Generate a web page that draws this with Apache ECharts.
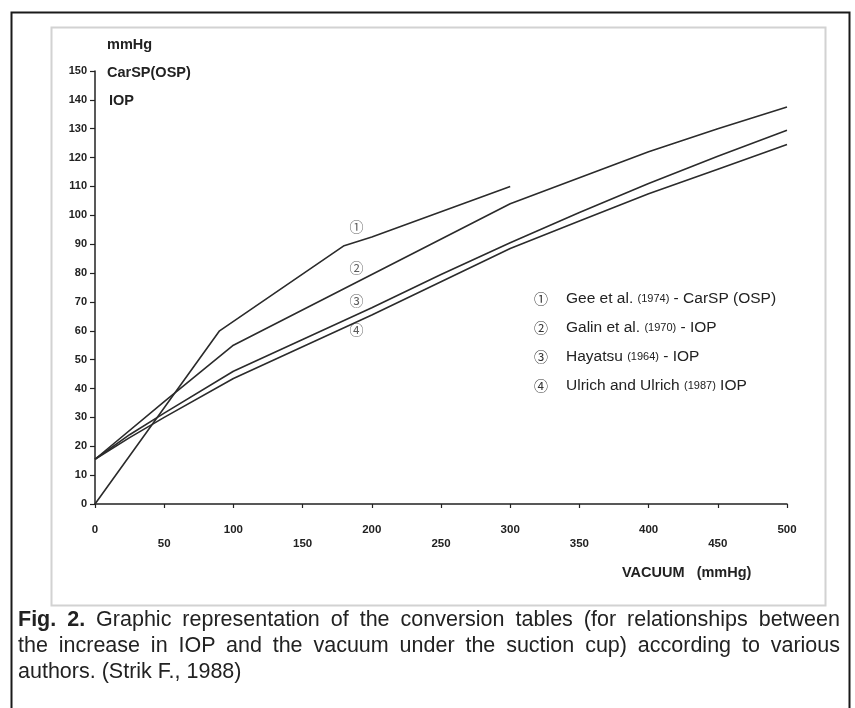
<!DOCTYPE html>
<html>
<head>
<meta charset="utf-8">
<script src="https://cdn.jsdelivr.net/npm/echarts@6/dist/echarts.min.js"></script>
<style>
  html, body { margin: 0; padding: 0; background: #fff; }
  #wrap { position: relative; width: 855px; height: 708px; overflow: hidden; }
  #chart { position: absolute; left: 0; top: 0; width: 855px; height: 708px; }
  #caption { position: absolute; left: 18px; top: 606px; width: 822px;
    font-family: "Liberation Sans", Arial, sans-serif; font-size: 21.5px; line-height: 26px; color: #222; }
  #caption .j { text-align: justify; text-align-last: justify; white-space: normal; }
  #caption b { font-weight: bold; }
</style>
</head>
<body>
<div id="wrap">
  <div id="chart"></div>
  <div id="caption">
    <div class="j"><b>Fig. 2.</b> Graphic representation of the conversion tables (for relationships between</div>
    <div class="j">the increase in IOP and the vacuum under the suction cup) according to various</div>
    <div>authors. (Strik F., 1988)</div>
  </div>
</div>
<script>
// ---- data ----
var markers = ['①', '②', '③', '④'];
var authors = ['Gee et al.', 'Galin et al.', 'Hayatsu', 'Ulrich and Ulrich'];
var years = ['1974', '1970', '1964', '1987'];
var suffixes = [' - CarSP (OSP)', ' - IOP', ' - IOP', ' IOP'];

var geeVacuum = [0, 90, 180, 200, 300];
var geeCarSP = [0, 60, 89.5, 92.5, 110];

var galinVacuum = [0, 50, 100, 300, 400, 450, 500];
var galinIOP = [15.5, 35.5, 55, 104, 122, 130, 137.5];

var hayatsuVacuum = [0, 25, 50, 100, 150, 200, 250, 300, 350, 400, 450, 500];
var hayatsuIOP = [15.5, 24, 31.5, 46, 57, 68, 79.5, 90.5, 101, 111, 120.5, 129.5];

var ulrichVacuum = [0, 25, 50, 100, 150, 200, 250, 300, 350, 400, 450, 500];
var ulrichIOP = [15.5, 23, 30, 43.5, 54.5, 65.5, 77, 88.5, 98, 107.5, 116, 124.5];

var curveLabelVacuum = [189, 189, 189, 189];
var curveLabelValue = [96, 82, 70.5, 60.5];

var yTicks = { min: 0, max: 150, step: 10 };
var xTicks = { min: 0, max: 500, step: 50 };

// ---- build ----
function pairs(xs, ys) { return xs.map(function (x, i) { return [x, ys[i]]; }); }
var names = authors.map(function (a, i) { return a + ' (' + years[i] + ')' + suffixes[i]; });
var seriesData = [pairs(geeVacuum, geeCarSP), pairs(galinVacuum, galinIOP),
                  pairs(hayatsuVacuum, hayatsuIOP), pairs(ulrichVacuum, ulrichIOP)];

var lineColor = '#2b2b2b';
var series = seriesData.map(function (d, i) {
  return {
    name: names[i], type: 'line', data: d, smooth: false, symbol: 'none',
    lineStyle: { color: lineColor, width: 1.6 }, itemStyle: { color: lineColor },
    animation: false, z: 3
  };
});
series.push({
  type: 'scatter', name: 'curve labels', symbolSize: 0, silent: true, animation: false,
  data: curveLabelVacuum.map(function (x, i) { return [x, curveLabelValue[i], markers[i]]; }),
  label: { show: true, position: 'inside', formatter: function (p) { return p.data[2]; },
    fontFamily: '"Noto Sans CJK SC", "DejaVu Sans", sans-serif', fontSize: 14, color: '#333' }
});

var chart = echarts.init(document.getElementById('chart'), null, { renderer: 'canvas' });
var baseFont = '"Liberation Sans", Arial, Helvetica, sans-serif';
chart.setOption({
  backgroundColor: '#fff',
  animation: false,
  grid: { left: 95, right: 68, top: 71, bottom: 204, containLabel: false },
  xAxis: {
    type: 'value', min: xTicks.min, max: xTicks.max, interval: xTicks.step,
    axisLine: { show: true, lineStyle: { color: '#222', width: 1.5 } },
    axisTick: { show: true, length: 4, lineStyle: { color: '#222', width: 1.2 } },
    splitLine: { show: false },
    axisLabel: {
      margin: 19, color: '#222', fontFamily: baseFont, fontSize: 11.5, fontWeight: 'bold', lineHeight: 14,
      formatter: function (v) { return (v % 100 === 0) ? String(v) : '\n' + v; }
    }
  },
  yAxis: {
    type: 'value', min: yTicks.min, max: yTicks.max, interval: yTicks.step,
    axisLine: { show: true, lineStyle: { color: '#222', width: 1.5 } },
    axisTick: { show: true, length: 5, lineStyle: { color: '#222', width: 1.2 } },
    splitLine: { show: false },
    axisLabel: { margin: 8, color: '#222', fontFamily: baseFont, fontSize: 11, fontWeight: 'bold' }
  },
  legend: {
    show: true, orient: 'vertical', left: 524, top: 286, data: names,
    icon: 'none', itemWidth: 0, itemHeight: 16, itemGap: 13, selectedMode: false,
    textStyle: {
      color: '#222', fontFamily: baseFont, fontSize: 15.5, lineHeight: 16,
      rich: {
        c: { fontFamily: '"Noto Sans CJK SC", "DejaVu Sans", sans-serif', fontSize: 14, color: '#333', padding: [0, 18, 0, 0] },
        t: { fontFamily: baseFont, fontSize: 15.5, color: '#222' },
        y: { fontFamily: baseFont, fontSize: 11, color: '#222' }
      }
    },
    formatter: function (name) {
      var i = names.indexOf(name);
      return '{c|' + markers[i] + '}{t|' + authors[i] + ' }{y|(' + years[i] + ')}{t|' + suffixes[i] + '}';
    }
  },
  graphic: [
    { type: 'rect', left: 9, top: 10, shape: { width: 838, height: 720 }, silent: true,
      style: { fill: 'none', stroke: '#1a1a1a', lineWidth: 2 } },
    { type: 'rect', left: 49, top: 25, shape: { width: 774, height: 578 }, silent: true,
      style: { fill: 'none', stroke: '#d2d2d2', lineWidth: 2 } },
    { type: 'text', left: 107, top: 37, style: { text: 'mmHg', font: 'bold 14.5px ' + baseFont, fill: '#222' } },
    { type: 'text', left: 107, top: 65, style: { text: 'CarSP(OSP)', font: 'bold 14.5px ' + baseFont, fill: '#222' } },
    { type: 'text', left: 109, top: 93, style: { text: 'IOP', font: 'bold 14.5px ' + baseFont, fill: '#222' } },
    { type: 'text', left: 622, top: 565, style: { text: 'VACUUM   (mmHg)', font: 'bold 14.5px ' + baseFont, fill: '#222' } }
  ],
  series: series
});
</script>
</body>
</html>
